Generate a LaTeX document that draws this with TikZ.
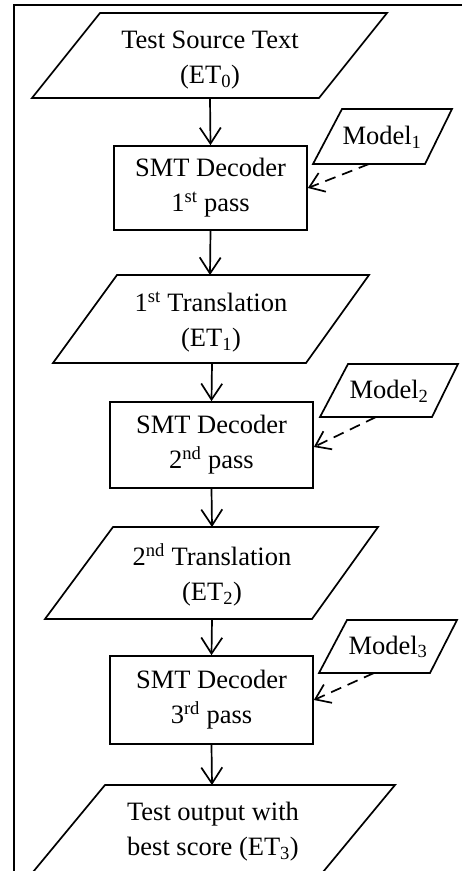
\documentclass[tikz,border=0pt]{standalone}
\usepackage{fontspec}
\setmainfont{Liberation Serif}
\usetikzlibrary{arrows.meta}
\begin{document}
\begin{tikzpicture}[x=1pt,y=-1pt,
  shp/.style={draw=black,line width=1.7pt,line join=miter},
  txt/.style={font=\fontsize{26.5}{35}\selectfont,align=center,inner sep=0pt},
  decbox/.style={draw=black,line width=1.7pt,inner sep=0pt,font=\fontsize{26.5}{35}\selectfont,align=center},
  flow/.style={line width=1.7pt,-{Straight Barb[length=16pt,width=21pt,line width=1.7pt]}},
  feed/.style={line width=1.7pt,dash pattern=on 11pt off 7pt,-{Straight Barb[length=14pt,width=20pt,line width=1.7pt]}}]
\useasboundingbox (0,0) rectangle (462,871);
\clip (0,0) rectangle (462,871);
% outer frame
\draw[line width=1.1pt] (14,885) -- (14,5) -- (480,5);
% parallelogram 1
\draw[shp] (100,13) -- (387,13) -- (319,98) -- (32,98) -- cycle;
\node[txt] (p1) at (210,60) {Test Source Text\\(ET\textsubscript{0})};
\coordinate (p1s) at (210,98);
% box 1
\node[decbox,minimum width=193pt,minimum height=84pt] (b1) at (210.5,188) {SMT Decoder\\1\textsuperscript{st} pass};
% model 1
\draw[shp] (342,109) -- (452,109) -- (425,164) -- (313,164) -- cycle;
\node[txt] (m1) at (382,137) {Model\textsubscript{1}};
\coordinate (m1s) at (369,164);
% parallelogram 2
\draw[shp] (117,275) -- (369,275) -- (306,363) -- (53,363) -- cycle;
\node[txt] (p2) at (211,322) {1\textsuperscript{st} Translation\\(ET\textsubscript{1})};
\coordinate (p2n) at (210,275);
\coordinate (p2s) at (212,363);
% box 2
\node[decbox,minimum width=203pt,minimum height=86pt] (b2) at (211.5,445) {SMT Decoder\\2\textsuperscript{nd} pass};
% model 2
\draw[shp] (348,364) -- (458,364) -- (432,417) -- (320,417) -- cycle;
\node[txt] (m2) at (389,391) {Model\textsubscript{2}};
\coordinate (m2s) at (376,417);
% parallelogram 3
\draw[shp] (113,527) -- (378,527) -- (312,619) -- (45,619) -- cycle;
\node[txt] (p3) at (212,575) {2\textsuperscript{nd} Translation\\(ET\textsubscript{2})};
\coordinate (p3n) at (212,527);
\coordinate (p3s) at (212,619);
% box 3
\node[decbox,minimum width=203pt,minimum height=88pt] (b3) at (211.5,700) {SMT Decoder\\3\textsuperscript{rd} pass};
% model 3
\draw[shp] (347,620) -- (457,620) -- (430,673) -- (319,673) -- cycle;
\node[txt] (m3) at (388,647) {Model\textsubscript{3}};
\coordinate (m3s) at (374,673);
% parallelogram 4
\draw[shp] (105,785) -- (395,785) -- (323,872) -- (33,872) -- cycle;
\node[txt] (p4) at (213,832) {Test output with\\best score (ET\textsubscript{3})};
\coordinate (p4n) at (212,785);
% connectors
\draw[flow] (p1s) -- (b1.north);
\draw[flow] (b1.south) -- (p2n);
\draw[flow] (p2s) -- (b2.north);
\draw[flow] (b2.south) -- (p3n);
\draw[flow] (p3s) -- (b3.north);
\draw[flow] (b3.south) -- (p4n);
\draw[feed] (m1s) -- (b1.east);
\draw[feed] (m2s) -- ([yshift=-2pt]b2.east);
\draw[feed] (m3s) -- (b3.east);
\end{tikzpicture}
\end{document}
